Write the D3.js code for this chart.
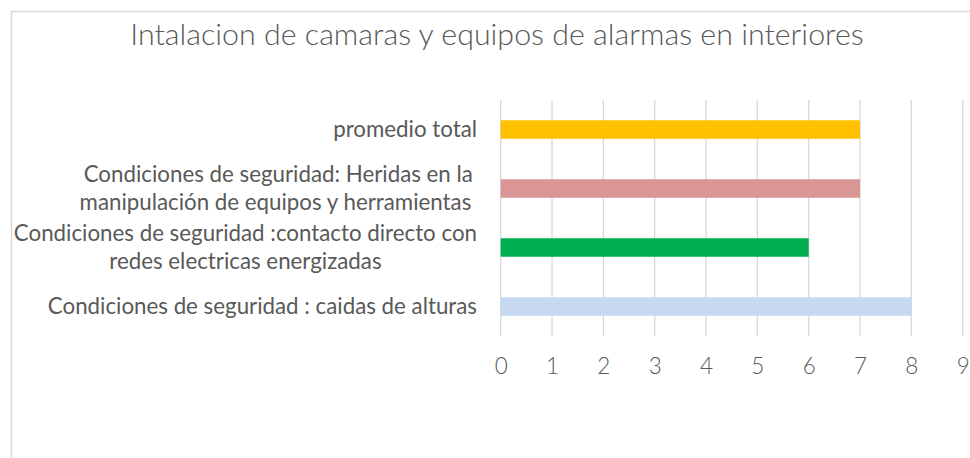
<!DOCTYPE html>
<html>
<head>
<meta charset="utf-8">
<script src="https://cdn.jsdelivr.net/npm/d3@7/dist/d3.min.js"></script>
<style>
  html, body { margin: 0; padding: 0; background: #ffffff; }
  svg text { font-family: Lato, "Open Sans", sans-serif; fill: #595959; white-space: pre; }
</style>
</head>
<body>
<svg id="chart" width="970" height="458"></svg>
<script>
// Chart data
const title = "Intalacion de camaras y equipos de alarmas en interiores";
const categories = [
  "promedio total",
  "Condiciones de seguridad: Heridas en la manipulación de equipos y herramientas ",
  "Condiciones de seguridad :contacto directo con redes electricas energizadas",
  "Condiciones de seguridad : caidas de alturas"
];
const categoryLines = [
  ["promedio total"],
  ["Condiciones de seguridad: Heridas en la", "manipulación de equipos y herramientas "],
  ["Condiciones de seguridad :contacto directo con", "redes electricas energizadas"],
  ["Condiciones de seguridad : caidas de alturas"]
];
const values = [7, 7, 6, 8];
const barColors = ["#FFC000", "#DA9694", "#00B050", "#C6D9F1"];
const tickValues = [0, 1, 2, 3, 4, 5, 6, 7, 8, 9];

const svg = d3.select("#chart");

// Outer chart frame (open on the right and bottom edges)
svg.append("path")
  .attr("d", "M11.5,458 L11.5,11.5 L970,11.5")
  .attr("fill", "none")
  .attr("stroke", "#d9d9d9")
  .attr("stroke-width", 1.5);

// Title
svg.append("text")
  .attr("x", 497)
  .attr("y", 45)
  .attr("text-anchor", "middle")
  .style("font-size", "30.4px")
  .style("font-weight", 300)
  .text(title);

const plotTop = 100, plotBottom = 336;
const x = d3.scaleLinear().domain([0, 9]).range([500.7, 962.7]);
const y = d3.scaleBand()
  .domain(categories)
  .range([plotTop, plotBottom])
  .paddingInner(0.686)
  .paddingOuter(0.343);

// Vertical gridlines
svg.append("g")
  .selectAll("line")
  .data(tickValues)
  .join("line")
  .attr("x1", d => x(d)).attr("x2", d => x(d))
  .attr("y1", plotTop).attr("y2", plotBottom)
  .attr("stroke", "#d9d9d9")
  .attr("stroke-width", 1.3);

// Bars
svg.append("g")
  .selectAll("rect")
  .data(categories)
  .join("rect")
  .attr("x", x(0))
  .attr("y", d => y(d))
  .attr("width", (d, i) => x(values[i]) - x(0))
  .attr("height", y.bandwidth())
  .attr("fill", (d, i) => barColors[i]);

// Value axis labels
const xAxis = svg.append("g")
  .attr("transform", `translate(0,${plotBottom})`)
  .call(d3.axisBottom(x).tickValues(tickValues).tickSize(0).tickFormat(d3.format("d")));
xAxis.select(".domain").remove();
xAxis.selectAll("text")
  .attr("y", 38)
  .attr("dy", 0)
  .style("font-family", "Lato, 'Open Sans', sans-serif")
  .style("font-size", "22.5px")
  .style("font-weight", 300)
  .style("fill", "#595959");

// Category labels: lines centred within a right-aligned block
const labelRight = 477;
const lineGap = 27.8;
const labels = svg.append("g").style("font-size", "22.3px");
categories.forEach((cat, i) => {
  const lines = categoryLines[i];
  const cy = y(cat) + y.bandwidth() / 2;
  const g = labels.append("g");
  const texts = lines.map((ln, j) =>
    g.append("text")
      .attr("y", cy + 7.5 + (j - (lines.length - 1) / 2) * lineGap)
      .attr("text-anchor", "middle")
      .text(ln)
  );
  const maxW = d3.max(texts, t => t.node().getComputedTextLength());
  texts.forEach(t => t.attr("x", labelRight - maxW / 2));
});
</script>
</body>
</html>
